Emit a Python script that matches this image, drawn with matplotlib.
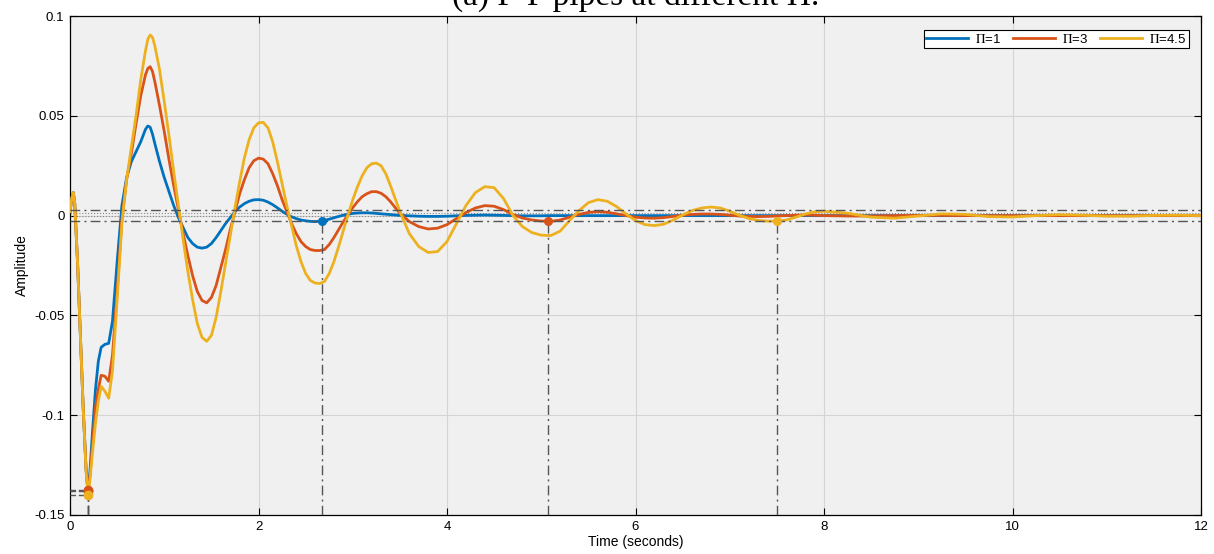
import numpy as np
import matplotlib.pyplot as plt

plt.rcParams['font.family'] = ['Liberation Sans Narrow', 'Liberation Sans', 'DejaVu Sans']
plt.rcParams['mathtext.fontset'] = 'stix'

# time samples (s)
t_a = [0, 0.02, 0.035, 0.05, 0.08, 0.11, 0.14, 0.17, 0.19, 0.21, 0.24, 0.27, 0.30, 0.33, 0.37, 0.41]
t_b = [0.45, 0.50, 0.55, 0.60, 0.65, 0.70, 0.75, 0.80, 0.825, 0.85, 0.875, 0.90, 0.95, 1.00, 1.05,
       1.10, 1.15, 1.20, 1.25, 1.30, 1.35, 1.40, 1.45, 1.50, 1.55, 1.60, 1.65, 1.70, 1.75, 1.80,
       1.85, 1.90, 1.95, 2.00, 2.05, 2.10, 2.15, 2.20, 2.25, 2.30, 2.35, 2.40, 2.45, 2.50, 2.55,
       2.60, 2.65, 2.70, 2.75, 2.80, 2.85, 2.90, 2.95, 3.00, 3.05, 3.10, 3.15, 3.20, 3.25, 3.30,
       3.35, 3.40, 3.45, 3.50]
t_c = [3.6, 3.7, 3.8, 3.9, 4.0, 4.1, 4.2, 4.3, 4.4, 4.5, 4.6, 4.7, 4.8, 4.9, 5.0, 5.1, 5.2, 5.3,
       5.4, 5.5, 5.6, 5.7, 5.8, 5.9, 6.0, 6.1, 6.2, 6.3, 6.4, 6.5, 6.6, 6.7, 6.8, 6.9, 7.0, 7.1,
       7.2, 7.3, 7.4, 7.5, 7.6, 7.7, 7.8, 7.9, 8.0]
t_d = [8.25, 8.5, 8.75, 9.0, 9.25, 9.5, 9.75, 10.0, 10.25, 10.5, 10.75, 11.0, 11.25, 11.5, 11.75, 12.0]

# Pi = 1
y1_a = [0.002, 0.009, 0.0115, 0.006, -0.024, -0.06, -0.097, -0.127, -0.138, -0.129, -0.107, -0.087,
        -0.073, -0.066, -0.0645, -0.064]
y1_b = [-0.053, -0.023, 0.005, 0.019, 0.027, 0.032, 0.037, 0.0432, 0.0449, 0.0443, 0.0408, 0.036,
        0.027, 0.019, 0.012, 0.005, -0.001, -0.006, -0.011, -0.014, -0.0158, -0.0163, -0.0158,
        -0.014, -0.011, -0.0075, -0.004, -0.001, 0.002, 0.0043, 0.006, 0.0072, 0.0079, 0.008,
        0.0077, 0.0068, 0.0055, 0.0039, 0.0022, 0.0007, -0.0006, -0.0015, -0.0022, -0.0026,
        -0.0029, -0.0030, -0.0028, -0.0024, -0.0018, -0.0011, -0.0004, 0.0002, 0.0007, 0.0011,
        0.0013, 0.0014, 0.0014, 0.0013, 0.0011, 0.0009, 0.0007, 0.0005, 0.0003, 0.0001]
y1_c = [-0.0001, -0.0003, -0.0004, -0.0004, -0.0003, -0.0001, 0.0001, 0.0002, 0.0003, 0.0002,
        0.0001, 0.0, -0.0001, -0.0001, -0.0001, 0, 0, 0, 0, 0, 0, 0, 0, 0, 0, 0, 0, 0, 0, 0,
        0, 0, 0, 0, 0, 0, 0, 0, 0, 0, 0, 0, 0, 0, 0]
y1_d = [0, 0, 0, 0, 0, 0, 0, 0, 0, 0, 0, 0, 0, 0, 0, 0]

# Pi = 3
y2_a = [0.002, 0.009, 0.0115, 0.006, -0.024, -0.06, -0.097, -0.127, -0.1375, -0.131, -0.113, -0.096,
        -0.087, -0.080, -0.0805, -0.083]
y2_b = [-0.070, -0.038, -0.002, 0.018, 0.031, 0.046, 0.060, 0.0705, 0.0737, 0.0746, 0.0722,
        0.067, 0.055, 0.042, 0.028, 0.015, 0.003, -0.009, -0.020, -0.030, -0.038, -0.0425,
        -0.0437, -0.041, -0.035, -0.026, -0.017, -0.007, 0.002, 0.011, 0.018, 0.024, 0.0275,
        0.0288, 0.0283, 0.026, 0.021, 0.015, 0.008, 0.002, -0.004, -0.009, -0.013, -0.0155,
        -0.017, -0.0175, -0.0175, -0.017, -0.0145, -0.011, -0.007, -0.003, 0.0005, 0.004, 0.007,
        0.0095, 0.011, 0.012, 0.012, 0.0112, 0.0095, 0.007, 0.004, 0.0012]
y2_c = [-0.003, -0.0055, -0.0067, -0.0063, -0.0045, -0.0015, 0.0015, 0.0038, 0.005, 0.0047, 0.003,
        0.0005, -0.0012, -0.0022, -0.0027, -0.0029, -0.0022, -0.0008, 0.0006, 0.0016, 0.002,
        0.0017, 0.0009, 0.0, -0.0008, -0.0012, -0.0013, -0.001, -0.0004, 0.0002, 0.0006, 0.0008,
        0.0008, 0.0006, 0.0002, -0.0002, -0.0004, -0.0005, -0.0004, -0.0002, 0.0, 0.0002, 0.0003,
        0.0002, 0.0]
y2_d = [-0.0002, -0.0002, 0.0, 0.0001, 0.0001, 0, 0, 0, 0, 0, 0, 0, 0, 0, 0, 0]

# Pi = 4.5
y3_a = [0.002, 0.009, 0.0115, 0.006, -0.024, -0.06, -0.097, -0.128, -0.1402, -0.133, -0.118, -0.104,
        -0.093, -0.0855, -0.088, -0.0915]
y3_b = [-0.078, -0.042, -0.004, 0.018, 0.034, 0.050, 0.068, 0.0825, 0.0883, 0.0905, 0.0893,
        0.085, 0.073, 0.057, 0.040, 0.022, 0.005, -0.012, -0.028, -0.042, -0.054, -0.061, -0.063,
        -0.060, -0.051, -0.038, -0.024, -0.010, 0.004, 0.017, 0.029, 0.038, 0.044, 0.0465,
        0.0467, 0.044, 0.037, 0.027, 0.016, 0.005, -0.005, -0.015, -0.023, -0.029, -0.0325,
        -0.0338, -0.034, -0.033, -0.029, -0.023, -0.0155, -0.0075, 0.0005, 0.008, 0.0145, 0.020,
        0.024, 0.026, 0.0263, 0.025, 0.021, 0.015, 0.0085, 0.002]
y3_c = [-0.009, -0.0155, -0.0185, -0.018, -0.013, -0.004, 0.005, 0.0115, 0.0145, 0.014, 0.0085,
        0.0, -0.0055, -0.0085, -0.0098, -0.01, -0.0078, -0.0025, 0.0025, 0.0065, 0.008, 0.0072,
        0.0045, 0.0008, -0.0025, -0.0045, -0.005, -0.0043, -0.0022, 0.0003, 0.0025, 0.0038,
        0.0043, 0.0038, 0.0022, 0.0002, -0.0014, -0.0024, -0.0028, -0.0028, -0.0022, -0.0008,
        0.0008, 0.0019, 0.0022]
y3_d = [0.0012, -0.0008, -0.0013, -0.0002, 0.0009, 0.0006, -0.0005, -0.0007, 0.0, 0.0005, 0.0002,
        -0.0003, -0.0003, 0.0001, 0.0002, 0.0]

labels = [r'$\Pi$=1', r'$\Pi$=3', r'$\Pi$=4.5']
colors = ['#0072BD', '#D95319', '#EDB120']

# peak response / settling time characteristics
peak_t = [0.19, 0.19, 0.19]
peak_y = [-0.138, -0.1375, -0.1402]
settle_t = [2.67, 5.07, 7.5]
settle_y = [-0.0028, -0.0028, -0.0028]
settle_band = 0.0028

t = np.array(t_a + t_b + t_c + t_d)
series = [np.array(y1_a + y1_b + y1_c + y1_d),
          np.array(y2_a + y2_b + y2_c + y2_d),
          np.array(y3_a + y3_b + y3_c + y3_d)]

fig = plt.figure(figsize=(12.14, 5.54), dpi=100)
ax = fig.add_axes([0.0577, 0.0704, 0.9316, 0.9007])
ax.set_facecolor('#f0f0f0')

for y, c, lab in zip(series, colors, labels):
    ax.plot(t, y, color=c, lw=2.0, label=lab, zorder=3, solid_joinstyle='round')

gray = '#555555'
dashdot = (0, (7, 3, 1.5, 3))
ax.axhline(settle_band, color=gray, lw=1, ls=dashdot, zorder=4)
ax.axhline(-settle_band, color=gray, lw=1, ls=dashdot, zorder=4)
ax.axhline(0.0012, color='#888888', lw=0.8, ls=':', zorder=2)
ax.axhline(0, color='#888888', lw=0.8, ls=':', zorder=2)

for st, sy, c in zip(settle_t, settle_y, colors):
    ax.plot([st, st], [-0.15, sy], color=gray, lw=1, ls=dashdot, zorder=4)
    ax.plot(st, sy, 'o', color=c, ms=5.5, zorder=5)

for pt, py, c in zip(peak_t, peak_y, colors):
    ax.plot([0, pt], [py, py], color=gray, lw=1, ls=(0, (4, 2)), zorder=4)
    ax.plot([pt, pt], [-0.15, py], color=gray, lw=1, ls=dashdot, zorder=4)
    ax.plot(pt, py, 'o', color=c, ms=6, zorder=5)

ax.set_xlim(0, 12)
ax.set_ylim(-0.15, 0.1)
ax.set_xticks([0, 2, 4, 6, 8, 10, 12])
ax.set_yticks([-0.15, -0.1, -0.05, 0, 0.05, 0.1])
ax.set_yticklabels(['-0.15', '-0.1', '-0.05', '0', '0.05', '0.1'])
ax.tick_params(direction='in', length=5, width=0.8, labelsize=9.5, top=True, right=True,
               colors='black', pad=4)
ax.grid(True, color='#d4d4d4', lw=0.8)
ax.set_axisbelow(True)
for s in ax.spines.values():
    s.set_linewidth(0.9)

ax.set_xlabel('Time (seconds)', fontsize=10, labelpad=2)
ax.set_ylabel('Amplitude', fontsize=10, labelpad=4)

leg = ax.legend(loc='upper right', bbox_to_anchor=(0.989, 0.972), ncol=3, fontsize=9.5,
                frameon=True, fancybox=False, edgecolor='black', framealpha=1,
                handlelength=3.2, columnspacing=0.9, handletextpad=0.5, borderpad=0.2,
                borderaxespad=0)
leg.get_frame().set_linewidth(0.8)

# title sits partly above the top edge, as in the source figure
fig.text(0.524, 1 - 5 / 554, '(a) P-P pipes at different Π.', ha='center', va='baseline',
         family='Liberation Serif', fontsize=24)

fig.savefig('out.png', dpi=100)
